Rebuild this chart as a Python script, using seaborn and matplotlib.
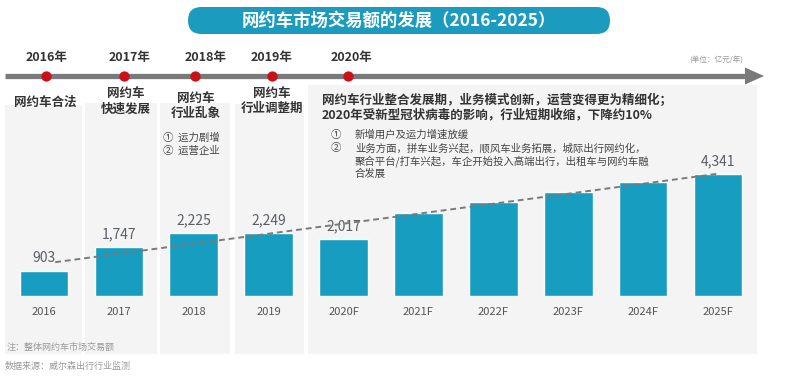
import numpy as np
import pandas as pd
import matplotlib
matplotlib.use("Agg")
import matplotlib.pyplot as plt
from matplotlib.patches import FancyBboxPatch, Rectangle, Polygon
import seaborn as sns

# ---------------- data ----------------
years = ["2016", "2017", "2018", "2019", "2020F", "2021F", "2022F", "2023F", "2024F", "2025F"]
values = [903, 1747, 2225, 2249, 2017, 2950, 3350, 3700, 4050, 4341]
value_labels = ["903", "1,747", "2,225", "2,249", "2,017", "", "", "", "", "4,341"]
trend_values = [1200, 4341]          # dashed trend line start / end values
timeline_years = ["2016年", "2017年", "2018年", "2019年", "2020年"]
title = "网约车市场交易额的发展（2016-2025）"
unit_text = "(单位：亿元/年)"
stage_titles = ["网约车合法", "网约车\n快速发展", "网约车\n行业乱象", "网约车\n行业调整期"]
stage_2018_items = ["①  运力剧增", "②  运营企业"]
stage_2020_head = ["网约车行业整合发展期，业务模式创新，运营变得更为精细化；",
                   "2020年受新型冠状病毒的影响，行业短期收缩，下降约10%"]
stage_2020_items = [("①", "新增用户及运力增速放缓"),
                    ("②", "业务方面，拼车业务兴起，顺风车业务拓展，城际出行网约化，"),
                    ("", "聚合平台/打车兴起，车企开始投入高端出行，出租车与网约车融"),
                    ("", "合发展")]
note_text = "注：整体网约车市场交易额"
source_text = "数据来源：威尔森出行行业监测"

# ---------------- style ----------------
sns.set_theme(style="white")
plt.rcParams["font.family"] = ["Noto Sans CJK SC", "DejaVu Sans"]

W, H = 792, 384
fig = plt.figure(figsize=(W / 100, H / 100), dpi=100)
fig.patch.set_facecolor("white")

# background / decoration axes in pixel coordinates
bg = fig.add_axes([0, 0, 1, 1], zorder=0)
bg.set_xlim(0, W)
bg.set_ylim(H, 0)
bg.axis("off")

panel_color = "#f4f4f4"
panels = [(5, 105, 77), (85, 103, 72), (160, 103, 70), (235, 104, 69), (308, 85, 449)]
for x0, y0, w in panels:
    bg.add_patch(Rectangle((x0, y0), w, 354 - y0, facecolor=panel_color, edgecolor="none"))

# title pill
teal = "#179dbf"
bg.add_patch(FancyBboxPatch((188, 7), 422, 27, boxstyle="round,pad=0,rounding_size=13.5",
                            facecolor="#1b9cbf", edgecolor="none"))
bg.text(399, 20.5, title, ha="center", va="center", color="white", fontsize=12.5, fontweight="bold")

# timeline
bg.plot([5, 748], [76, 76], color="#7a7a7a", lw=3.8, solid_capstyle="butt")
bg.add_patch(Polygon([(745, 67.5), (764, 76), (745, 84.5)], closed=True, facecolor="#7a7a7a", edgecolor="none"))
dot_x = [46, 124, 195, 272, 348]
label_x = [47, 130, 206, 272, 351]
bg.scatter(dot_x, [76] * len(dot_x), s=55, color="#cc1018", zorder=3, linewidths=0)
for lx, t in zip(label_x, timeline_years):
    bg.text(lx, 57, t, ha="center", va="center", fontsize=9, fontweight="bold", color="#333333")
bg.text(716, 61, unit_text, ha="center", va="center", fontsize=5.5, color="#999999")

# stage descriptions
dark = "#333333"
stage_pos = [(45, 102), (126, 101), (196, 106), (272, 101)]
for (sx, sy), t in zip(stage_pos, stage_titles):
    bg.text(sx, sy, t, ha="center", va="center", fontsize=9, fontweight="bold", color=dark,
            linespacing=1.25)
for i, t in enumerate(stage_2018_items):
    bg.text(163, 138 + 13 * i, t, ha="left", va="center", fontsize=7.5, color="#444444")
for i, t in enumerate(stage_2020_head):
    bg.text(322, 100 + 14.5 * i, t, ha="left", va="center", fontsize=9, fontweight="bold", color=dark)
for i, (num, t) in enumerate(stage_2020_items):
    yy = [135, 148.5, 161.5, 174][i]
    if num:
        bg.text(336, yy, num, ha="center", va="center", fontsize=7.5, color="#444444")
    bg.text(355, yy, t, ha="left", va="center", fontsize=7.5, color="#444444")

bg.text(7, 347, note_text, ha="left", va="center", fontsize=6.5, color="#999999")
bg.text(5, 366, source_text, ha="left", va="center", fontsize=6.5, color="#999999")

# ---------------- bar chart ----------------
df = pd.DataFrame({"year": years, "value": values})
ax = fig.add_axes([6.5 / W, 1 - 296 / H, 749 / W, 211 / H], zorder=2)
ax.patch.set_alpha(0)
sns.barplot(data=df, x="year", y="value", color=teal, saturation=1, width=0.65, ax=ax)
ax.set_xlim(-0.5, len(years) - 0.5)
ax.set_ylim(0, 7490)
ax.bar_label(ax.containers[0], labels=value_labels, padding=4, fontsize=10, color="#5a5f66")
ax.plot([0.15, len(years) - 1], trend_values, color="#7a7a7a", lw=1.4, ls=(0, (3, 2)), zorder=4)
ax.set_xlabel("")
ax.set_ylabel("")
ax.set_yticks([])
ax.tick_params(axis="x", length=0, pad=8, labelsize=8, labelcolor="#555555")
for s in ax.spines.values():
    s.set_visible(False)

fig.savefig("out.png", dpi=100)
